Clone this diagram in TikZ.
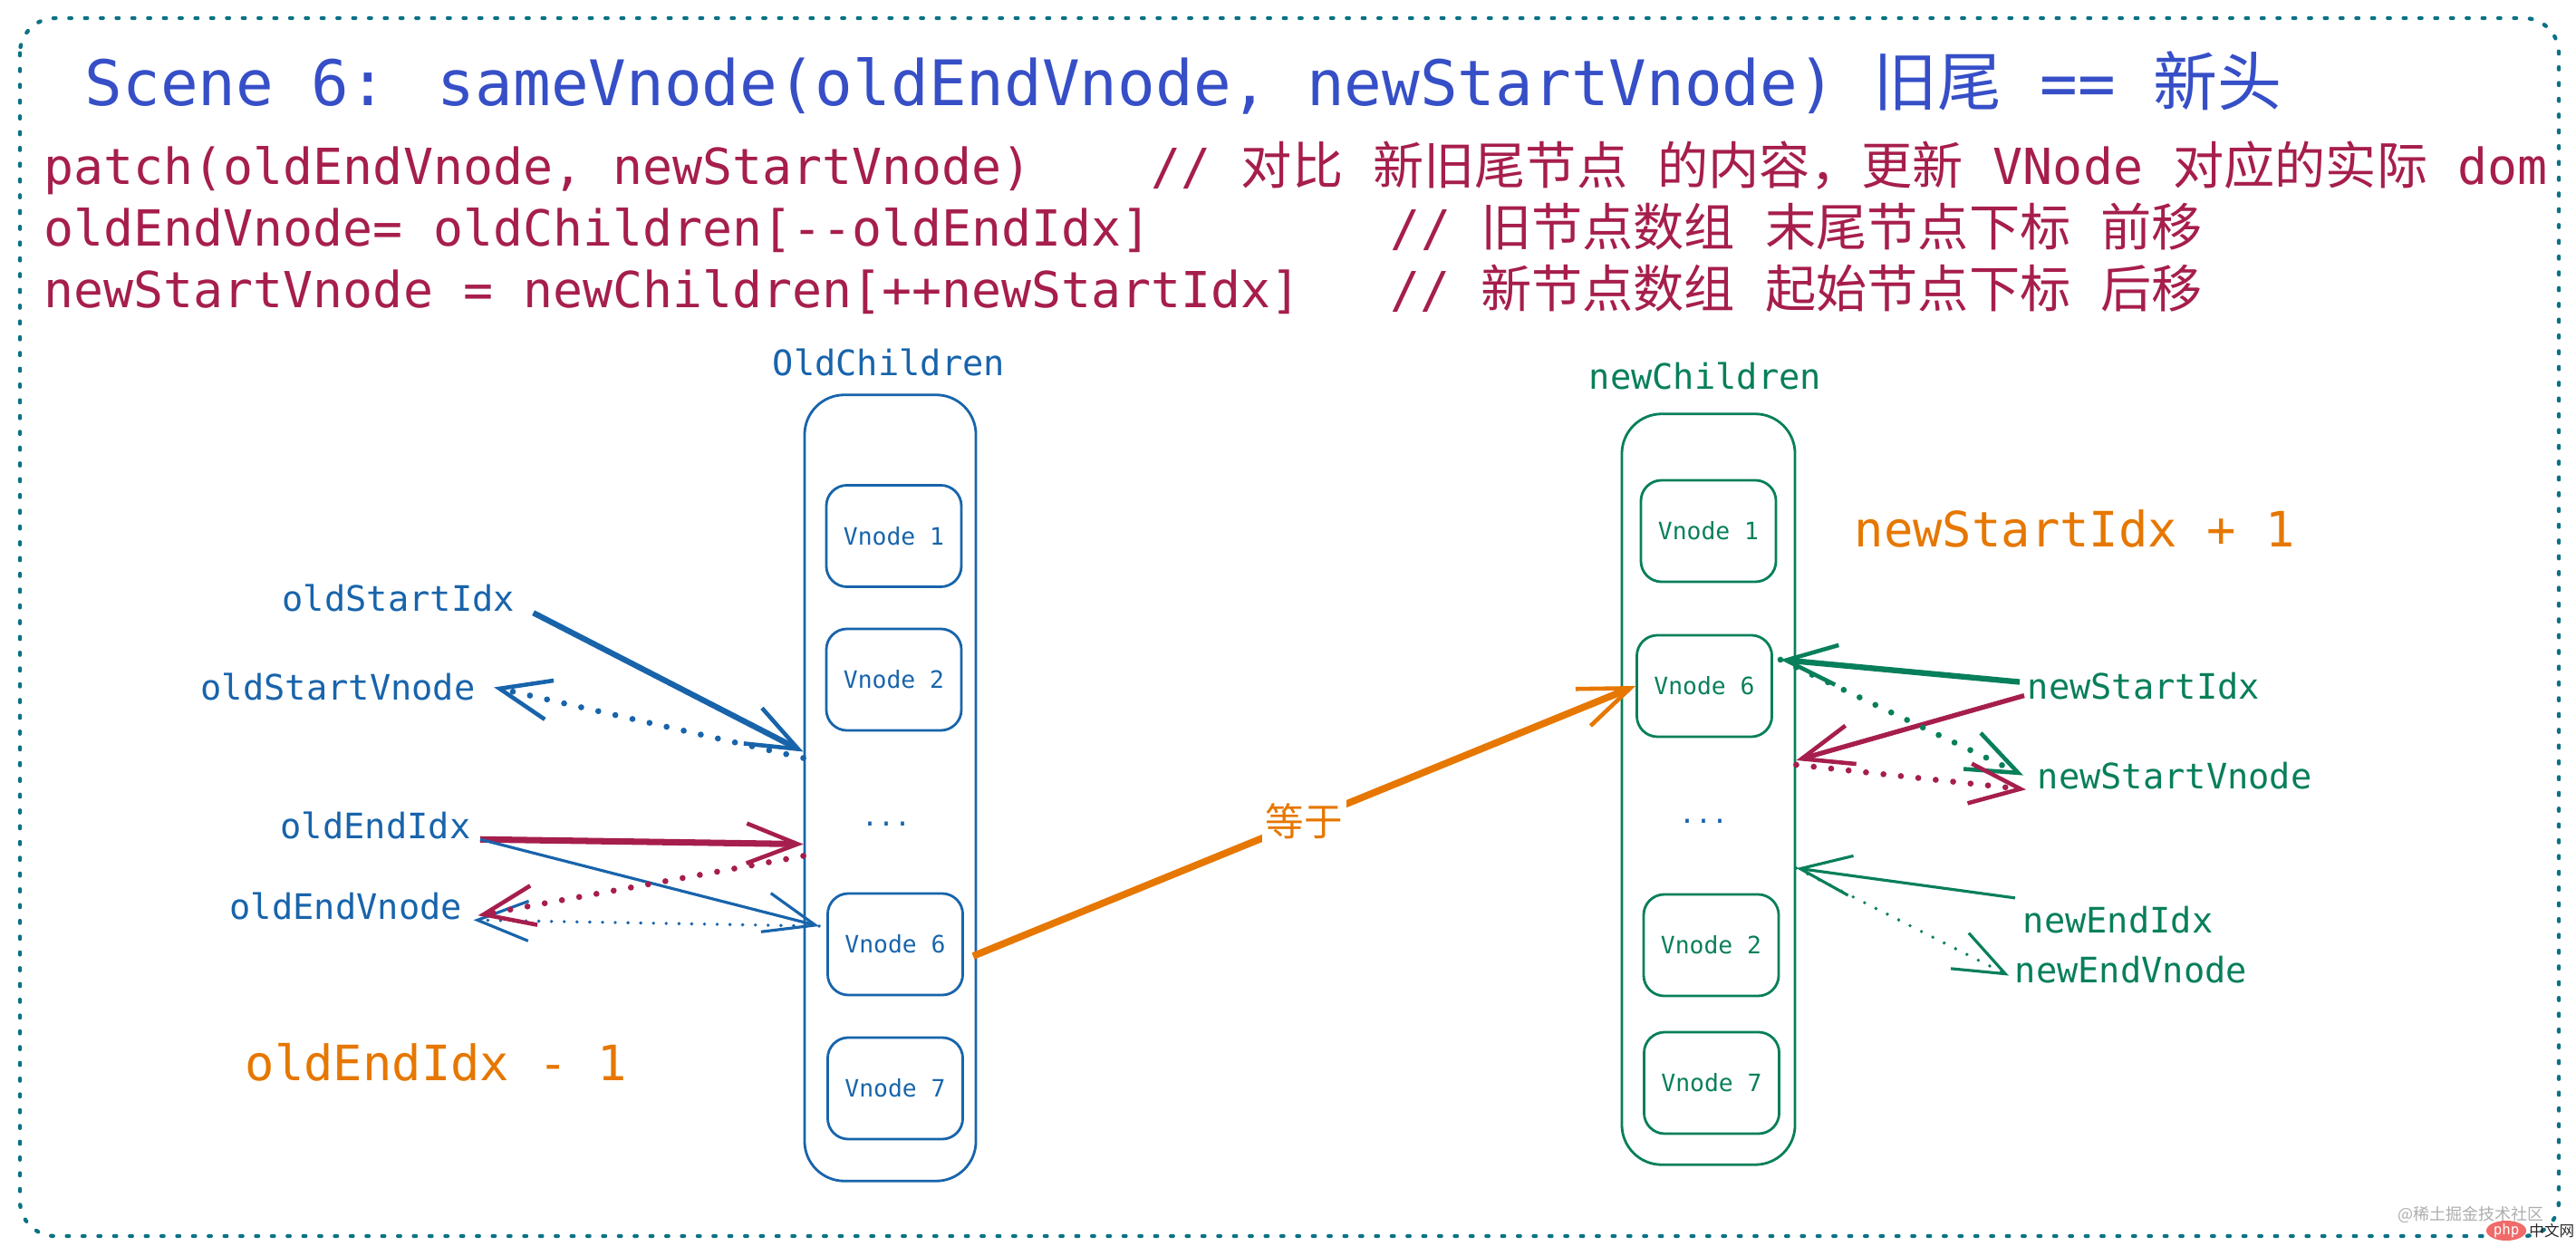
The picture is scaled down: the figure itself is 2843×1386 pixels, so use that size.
\documentclass[tikz,border=0pt]{standalone}
\usepackage{fontspec}
\usepackage{tikz}
\usetikzlibrary{arrows.meta,positioning,shapes.geometric}
\newfontfamily\mono{DejaVu Sans Mono}
\newfontfamily\cjk{Noto Sans CJK SC}[Scale=1.025]
\definecolor{titleblue}{HTML}{364FC7}
\definecolor{codered}{HTML}{A61E4D}
\definecolor{oldblue}{HTML}{1864AB}
\definecolor{newgreen}{HTML}{087F5B}
\definecolor{hintorange}{HTML}{E67700}
\definecolor{framecyan}{HTML}{0B7285}
\definecolor{phpred}{HTML}{EF6A68}
\tikzset{
  code/.style  ={anchor=base west, inner sep=0pt, text=codered, font=\mono\fontsize{15.6}{18}\selectfont},
  hint/.style  ={anchor=base west, inner sep=0pt, text=hintorange, font=\mono\fontsize{15.3}{18}\selectfont},
  lbl/.style   ={anchor=base west, inner sep=0pt, font=\mono\fontsize{11}{13}\selectfont},
  col/.style   ={draw, rounded corners=12.5pt, line width=0.8pt},
  vn/.style    ={draw, rounded corners=6.5pt, line width=0.8pt, minimum width=1.49cm, minimum height=1.12cm, inner sep=0pt, font=\mono\fontsize{7.5}{9}\selectfont},
  dotsym/.style={inner sep=0pt, text=oldblue, font=\mono\fontsize{8.5}{9}\selectfont},
  tip/.style   ={-{Straight Barb[length=16pt, width=12.5pt, line width'=1.3pt]}},
  ltip/.style  ={-{Straight Barb[length=16pt, width=12.5pt, line width'=0.9pt]}},
  heavy/.style ={line width=1.8pt},
  light/.style ={line width=0.9pt},
  dots/.style  ={line cap=round, dash pattern=on 0pt off 5.5pt, line width=1.9pt},
  fdots/.style ={line cap=round, dash pattern=on 0pt off 4pt, line width=1.1pt},
  eq/.style    ={fill=white, inner sep=1pt, text=hintorange, font=\cjk\fontsize{11.8}{13}\selectfont}
}

\begin{document}
\begin{tikzpicture}[x=0.01cm, y=-0.01cm]
  \useasboundingbox (0,0) rectangle (2843,1386);
  \draw[framecyan, line width=1.25pt, line cap=round, dash pattern=on 0.7pt off 4.25pt, rounded corners=11pt] (22,20) rectangle (2824,1364);
  % heading and code lines
  \node[anchor=base west, inner sep=0pt, text=titleblue, font=\mono\fontsize{19.7}{24}\selectfont] (title) at (93,117) {Scene 6: sameVnode(oldEndVnode, newStartVnode) {\cjk 旧尾} == {\cjk 新头}};
  \node[code] (pline) at (48,204) {patch(oldEndVnode, newStartVnode)\ \ \ \ // {\cjk 对比} {\cjk 新旧尾节点} {\cjk 的内容，更新} VNode {\cjk 对应的实际} dom};
  \node[code] (oline) at (48,272) {oldEndVnode= oldChildren[-{}-oldEndIdx]\ \ \ \ \ \ \ \ // {\cjk 旧节点数组} {\cjk 末尾节点下标} {\cjk 前移}};
  \node[code] (nline) at (48,340) {newStartVnode = newChildren[++newStartIdx]\ \ \ // {\cjk 新节点数组} {\cjk 起始节点下标} {\cjk 后移}};
  % old children
  \node[lbl, text=oldblue] (otitle) at (852,415) {OldChildren};
  \node[col, draw=oldblue, minimum width=1.89cm, minimum height=8.67cm] (ocol) at (982.5,869.5) {};
  \node[vn, draw=oldblue, text=oldblue] (o1) at (986.5,591.5) {Vnode 1};
  \node[vn, draw=oldblue, text=oldblue] (o2) at (986.5,750) {Vnode 2};
  \node[dotsym] (odots) at (978,909) {...};
  \node[vn, draw=oldblue, text=oldblue] (o6) at (988,1042) {Vnode 6};
  \node[vn, draw=oldblue, text=oldblue] (o7) at (988,1201) {Vnode 7};
  % new children
  \node[lbl, text=newgreen] (ntitle) at (1753,430) {newChildren};
  \node[col, draw=newgreen, minimum width=1.91cm, minimum height=8.28cm] (ncol) at (1885.5,871) {};
  \node[vn, draw=newgreen, text=newgreen] (n1) at (1885.5,586) {Vnode 1};
  \node[vn, draw=newgreen, text=newgreen] (n6) at (1881,757) {Vnode 6};
  \node[dotsym] (ndots) at (1880,906) {...};
  \node[vn, draw=newgreen, text=newgreen] (n2) at (1888.5,1043) {Vnode 2};
  \node[vn, draw=newgreen, text=newgreen] (n7) at (1889,1195) {Vnode 7};
  % pointers
  \node[lbl, text=oldblue] (osi) at (311,675) {oldStartIdx};
  \node[lbl, text=oldblue] (osv) at (221,773) {oldStartVnode};
  \node[lbl, text=oldblue] (oei) at (309,925) {oldEndIdx};
  \node[lbl, text=oldblue] (oev) at (253,1014) {oldEndVnode};
  \node[lbl, text=newgreen] (nsi) at (2237,772) {newStartIdx};
  \node[lbl, text=newgreen] (nsv) at (2248,870) {newStartVnode};
  \node[lbl, text=newgreen] (nei) at (2232,1029) {newEndIdx};
  \node[lbl, text=newgreen] (nev) at (2223,1084) {newEndVnode};
  \node[hint] (nplus) at (2046,604) {newStartIdx + 1};
  \node[hint] (ominus) at (270,1192) {oldEndIdx - 1};
  % old side arrows
  \draw[tip, heavy, oldblue] ([xshift=0.2cm]osi.south east) -- ([yshift=0.4cm]ocol.west);
  \draw[tip, dots, oldblue] ([yshift=0.33cm]ocol.west) -- ([xshift=0.2cm]osv.east);
  \draw[tip, codered, line width=2pt] ([xshift=0.1cm]oei.south east) -- ([yshift=-0.62cm]ocol.west);
  \draw[ltip, light, oldblue] ([xshift=0.1cm]oei.south east) -- ([xshift=-0.08cm, yshift=0.2cm]o6.west);
  \draw[ltip, fdots, oldblue] ([xshift=-0.08cm, yshift=0.2cm]o6.west) -- ([xshift=0.12cm]oev.south east);
  \draw[tip, dots, codered] ([yshift=-0.75cm]ocol.west) -- ([xshift=0.17cm, yshift=0.05cm]oev.south east);
  % old tail equals new head
  \draw[tip, hintorange, line width=2.2pt] ([xshift=0.1cm, yshift=-0.13cm]o6.east) -- node[eq]{等于} (n6.west);
  % new side arrows
  \draw[tip, heavy, newgreen] ([xshift=-0.08cm, yshift=0.05cm]nsi.west) -- ([xshift=0.08cm, yshift=0.29cm]n6.east);
  \draw[tip, codered, line width=1.5pt] ([xshift=-0.03cm, yshift=-0.1cm]nsi.west) -- ([yshift=0.32cm]ncol.east);
  \draw[tip, dots, newgreen] ([xshift=0.08cm, yshift=0.29cm]n6.east) -- ([xshift=-0.15cm]nsv.west);
  \draw[tip, dots, codered] ([yshift=0.27cm]ncol.east) -- ([xshift=-0.12cm]nsv.south west);
  \draw[ltip, light, newgreen] ([xshift=-0.08cm, yshift=0.08cm]nei.north west) -- ([yshift=-0.87cm]ncol.east);
  \draw[ltip, fdots, newgreen] ([yshift=-0.87cm]ncol.east) -- ([xshift=-0.06cm, yshift=-0.07cm]nev.west);
  % watermark
  \node[anchor=east, inner sep=0pt, text=black!32, font=\cjk\fontsize{5}{6}\selectfont] (wm) at (2808,1340) {@稀土掘金技术社区};
  \node[ellipse, fill=phpred, inner sep=0pt, minimum width=0.44cm, minimum height=0.22cm, text=white, font=\mono\fontsize{4.5}{5}\selectfont] (php) at (2766,1358) {php};
  \node[right=0.02cm of php, inner sep=0pt, text=black!85, font=\cjk\fontsize{4.6}{5}\selectfont] (phpcn) {中文网};
\end{tikzpicture}
\end{document}
